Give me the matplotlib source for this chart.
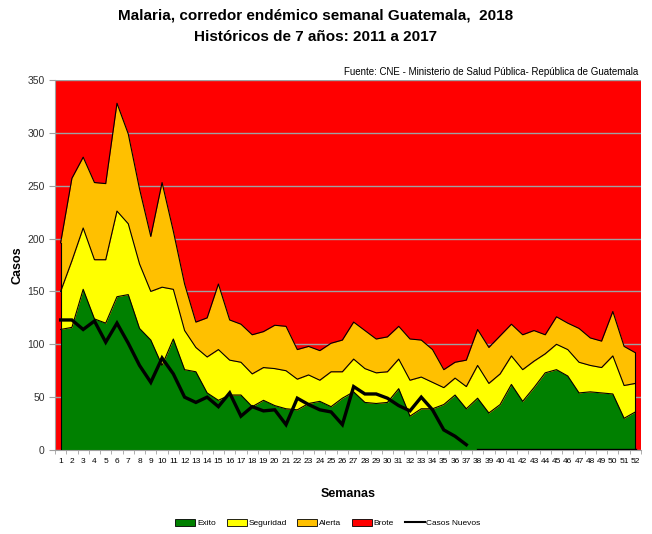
import numpy as np
import matplotlib
matplotlib.use('Agg')
import matplotlib.pyplot as plt
from matplotlib.patches import Patch
from matplotlib.lines import Line2D

plt.rcParams['font.family'] = ['Liberation Sans', 'DejaVu Sans']

weeks = list(range(1, 53))
exito = [114, 116, 152, 124, 120, 145, 147, 115, 104, 80, 105, 76, 74, 54, 47, 52, 52, 41, 47, 42,
         39, 38, 44, 46, 41, 49, 55, 45, 44, 45, 58, 32, 39, 39, 43, 52, 39, 49, 35, 43,
         62, 46, 59, 73, 76, 70, 54, 55, 54, 53, 30, 36]
seguridad = [150, 179, 210, 180, 180, 226, 214, 176, 150, 154, 152, 113, 97, 88, 95, 85, 83, 72, 78, 77,
             75, 67, 71, 66, 74, 74, 86, 77, 73, 74, 86, 66, 69, 64, 59, 68, 60, 80, 63, 72,
             89, 76, 84, 91, 100, 95, 83, 80, 78, 89, 61, 63]
alerta = [196, 257, 277, 253, 252, 328, 299, 247, 202, 253, 207, 157, 121, 125, 157, 123, 119, 109, 112, 118,
          117, 95, 98, 94, 101, 104, 121, 113, 105, 107, 117, 105, 104, 95, 76, 83, 85, 114, 97, 108,
          119, 109, 113, 109, 126, 120, 115, 106, 103, 131, 98, 92]
brote_max = 350
casos = [123, 123, 114, 122, 102, 120, 101, 80, 64, 87, 72, 50, 45, 50, 41, 54, 32, 41, 37, 38,
         24, 49, 43, 38, 36, 24, 60, 53, 53, 49, 42, 37, 50, 38, 19, 13, 5] + [0] * 15
ultima_semana = 37

GREEN, YELLOW, ORANGE, RED = '#008000', '#FFFF00', '#FFC000', '#FF0000'

fig = plt.figure(figsize=(6.52, 5.34), dpi=100)
ax = fig.add_axes([55/652, 1-450/534, 586/652, 370/534])
ax.set_facecolor(RED)

w = np.array(weeks)
ax.fill_between(w, 0, exito, color=GREEN, lw=0, zorder=2)
ax.fill_between(w, exito, seguridad, color=YELLOW, lw=0, zorder=2)
ax.fill_between(w, seguridad, alerta, color=ORANGE, lw=0, zorder=2)
for s in (exito, seguridad, alerta):
    ax.plot(w, s, color='black', lw=0.8, zorder=3)
ax.plot([w[0], w[0]], [0, alerta[0]], color='black', lw=0.8, zorder=3)
ax.plot([w[-1], w[-1]], [0, alerta[-1]], color='black', lw=0.8, zorder=3)

ax.plot(w[:ultima_semana], casos[:ultima_semana], color='black', lw=2.4, zorder=4, solid_joinstyle='miter')
ax.plot(w[ultima_semana:], casos[ultima_semana:], color='black', lw=2.4, zorder=4)

ax.set_xlim(0.55, 52.45)
ax.set_ylim(0, brote_max)
ax.set_yticks(range(0, 351, 50))
ax.set_xticks(weeks)
ax.set_xticklabels([str(x) for x in weeks], fontsize=6)
ax.set_xticks(np.arange(0.5, 53, 1), minor=True)
ax.tick_params(axis='x', which='major', length=0, pad=6)
ax.tick_params(axis='x', which='minor', length=3, color='#a0a0a0')
ax.tick_params(axis='y', length=4, color='#a0a0a0', labelsize=7.5, labelcolor='#303030')
ax.grid(axis='y', color='#a0a0a0', lw=1, zorder=1)
ax.set_axisbelow(True)
for sp in ('top', 'right'):
    ax.spines[sp].set_visible(False)
for sp in ('left', 'bottom'):
    ax.spines[sp].set_color('#a0a0a0')

ax.set_ylabel('Casos', fontsize=9, fontweight='bold', labelpad=3)
ax.set_xlabel('Semanas', fontsize=9, fontweight='bold', labelpad=16)

fig.text(316/652, 1-16/534, 'Malaria, corredor endémico semanal Guatemala,  2018',
         ha='center', va='center', fontsize=11, fontweight='bold')
fig.text(316/652, 1-37/534, 'Históricos de 7 años: 2011 a 2017',
         ha='center', va='center', fontsize=11, fontweight='bold')
fig.text(638/652, 1-72/534, 'Fuente: CNE - Ministerio de Salud Pública- República de Guatemala',
         ha='right', va='center', fontsize=7)

handles = [Patch(facecolor=GREEN, edgecolor='black', lw=0.6, label='Exito'),
           Patch(facecolor=YELLOW, edgecolor='black', lw=0.6, label='Seguridad'),
           Patch(facecolor=ORANGE, edgecolor='black', lw=0.6, label='Alerta'),
           Patch(facecolor=RED, edgecolor='black', lw=0.6, label='Brote'),
           Line2D([0], [0], color='black', lw=1.5, label='Casos Nuevos')]
fig.legend(handles=handles, loc='center', bbox_to_anchor=(328/652, 1-523/534), ncol=5,
           frameon=False, fontsize=6, handlelength=2.4, handleheight=0.9,
           handletextpad=0.2, columnspacing=1.3)

fig.savefig('out.png', dpi=100)
